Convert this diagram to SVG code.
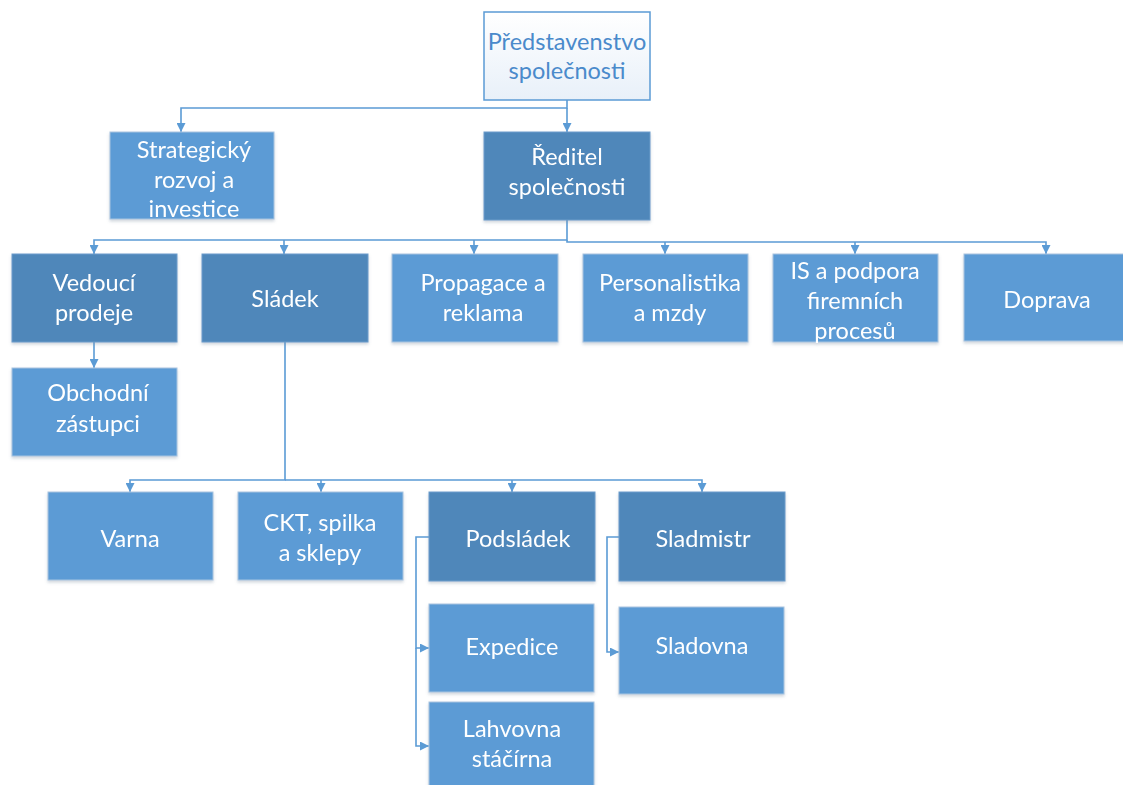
<svg xmlns="http://www.w3.org/2000/svg" width="1123" height="785" viewBox="0 0 1123 785">
  <defs>
    <linearGradient id="topFill" x1="0" y1="0" x2="0" y2="1">
      <stop offset="0" stop-color="#ffffff"/>
      <stop offset="1" stop-color="#e8f0f9"/>
    </linearGradient>
    <filter id="shadow" x="-5%" y="-5%" width="110%" height="115%">
      <feDropShadow dx="0" dy="2" stdDeviation="1.5" flood-color="#7a8aa0" flood-opacity="0.35"/>
    </filter>
    <marker id="arrow" viewBox="0 0 10 10" refX="10" refY="5" markerWidth="9" markerHeight="9" orient="auto" markerUnits="userSpaceOnUse">
      <path d="M0,0 L10,5 L0,10 z" fill="#5b9bd5"/>
    </marker>
  </defs>
  <style>
    .box { filter: url(#shadow); }
    .light { fill: #5b9bd5; stroke: #a9c4e0; stroke-width: 1; }
    .dark { fill: #4f87ba; stroke: #6c9ccb; stroke-width: 1; }
    .top { fill: url(#topFill); stroke: #5b9bd5; stroke-width: 1.5; }
    .label { font-family: Lato, "Liberation Sans", sans-serif; font-size: 23.5px; fill: #ffffff; text-anchor: middle; }
    .label.blue { fill: #4a8acb; }
    .conn { fill: none; stroke: #5b9bd5; stroke-width: 1.6; }
  </style>

  <!-- connectors -->
  <g id="connectors">
    <path class="conn" d="M567,100 V108 H181 V132" marker-end="url(#arrow)"/>
    <path class="conn" d="M567,108 V132" marker-end="url(#arrow)"/>
    <path class="conn" d="M567,220 V240 H94 V254" marker-end="url(#arrow)"/>
    <path class="conn" d="M284,240 V254" marker-end="url(#arrow)"/>
    <path class="conn" d="M474,240 V254" marker-end="url(#arrow)"/>
    <path class="conn" d="M567,240 V242 H1046 V254" marker-end="url(#arrow)"/>
    <path class="conn" d="M665,242 V254" marker-end="url(#arrow)"/>
    <path class="conn" d="M855,242 V254" marker-end="url(#arrow)"/>
    <path class="conn" d="M94,342 V368" marker-end="url(#arrow)"/>
    <path class="conn" d="M285,342 V480 H130 V492" marker-end="url(#arrow)"/>
    <path class="conn" d="M321,480 V492" marker-end="url(#arrow)"/>
    <path class="conn" d="M285,480 H702 V492" marker-end="url(#arrow)"/>
    <path class="conn" d="M512,480 V492" marker-end="url(#arrow)"/>
    <path class="conn" d="M429,537 H416 V648 H429" marker-end="url(#arrow)"/>
    <path class="conn" d="M416,648 V746 H429" marker-end="url(#arrow)"/>
    <path class="conn" d="M619,537 H607 V652 H619" marker-end="url(#arrow)"/>
  </g>

  <g id="predstavenstvo">
    <rect class="top" x="484" y="12" width="166" height="88"/>
    <text class="label blue" x="567" y="50">Představenstvo</text>
    <text class="label blue" x="567" y="79">společnosti</text>
  </g>

  <g id="strategicky" class="box">
    <rect class="light" x="110" y="132" width="164" height="87"/>
    <text class="label" x="194" y="158">Strategický</text>
    <text class="label" x="194" y="188">rozvoj a</text>
    <text class="label" x="194" y="217">investice</text>
  </g>

  <g id="reditel" class="box">
    <rect class="dark" x="484" y="132" width="166" height="88"/>
    <text class="label" x="567" y="165">Ředitel</text>
    <text class="label" x="567" y="195">společnosti</text>
  </g>

  <g id="vedouci" class="box">
    <rect class="dark" x="12" y="254" width="165" height="88"/>
    <text class="label" x="94" y="291">Vedoucí</text>
    <text class="label" x="94" y="321">prodeje</text>
  </g>

  <g id="sladek" class="box">
    <rect class="dark" x="202" y="254" width="166" height="88"/>
    <text class="label" x="285" y="307">Sládek</text>
  </g>

  <g id="propagace" class="box">
    <rect class="light" x="392" y="254" width="166" height="88"/>
    <text class="label" x="483" y="291">Propagace a</text>
    <text class="label" x="483" y="321">reklama</text>
  </g>

  <g id="personalistika" class="box">
    <rect class="light" x="583" y="254" width="165" height="88"/>
    <text class="label" x="670" y="291">Personalistika</text>
    <text class="label" x="670" y="321">a mzdy</text>
  </g>

  <g id="is-podpora" class="box">
    <rect class="light" x="773" y="254" width="165" height="88"/>
    <text class="label" x="855" y="279">IS a podpora</text>
    <text class="label" x="855" y="309">firemních</text>
    <text class="label" x="855" y="339">procesů</text>
  </g>

  <g id="doprava" class="box">
    <rect class="light" x="964" y="254" width="165" height="87"/>
    <text class="label" x="1047" y="308">Doprava</text>
  </g>

  <g id="obchodni" class="box">
    <rect class="light" x="12" y="368" width="165" height="88"/>
    <text class="label" x="98" y="401">Obchodní</text>
    <text class="label" x="98" y="432">zástupci</text>
  </g>

  <g id="varna" class="box">
    <rect class="light" x="48" y="492" width="165" height="88"/>
    <text class="label" x="130" y="547">Varna</text>
  </g>

  <g id="ckt" class="box">
    <rect class="light" x="238" y="492" width="165" height="88"/>
    <text class="label" x="320" y="531">CKT, spilka</text>
    <text class="label" x="320" y="561">a sklepy</text>
  </g>

  <g id="podsladek" class="box">
    <rect class="dark" x="429" y="492" width="166" height="89"/>
    <text class="label" x="518" y="547">Podsládek</text>
  </g>

  <g id="sladmistr" class="box">
    <rect class="dark" x="619" y="492" width="166" height="89"/>
    <text class="label" x="703" y="547">Sladmistr</text>
  </g>

  <g id="expedice" class="box">
    <rect class="light" x="429" y="604" width="165" height="88"/>
    <text class="label" x="512" y="655">Expedice</text>
  </g>

  <g id="lahvovna" class="box">
    <rect class="light" x="429" y="702" width="165" height="90"/>
    <text class="label" x="512" y="737">Lahvovna</text>
    <text class="label" x="512" y="767">stáčírna</text>
  </g>

  <g id="sladovna" class="box">
    <rect class="light" x="619" y="607" width="165" height="87"/>
    <text class="label" x="702" y="654">Sladovna</text>
  </g>
</svg>
